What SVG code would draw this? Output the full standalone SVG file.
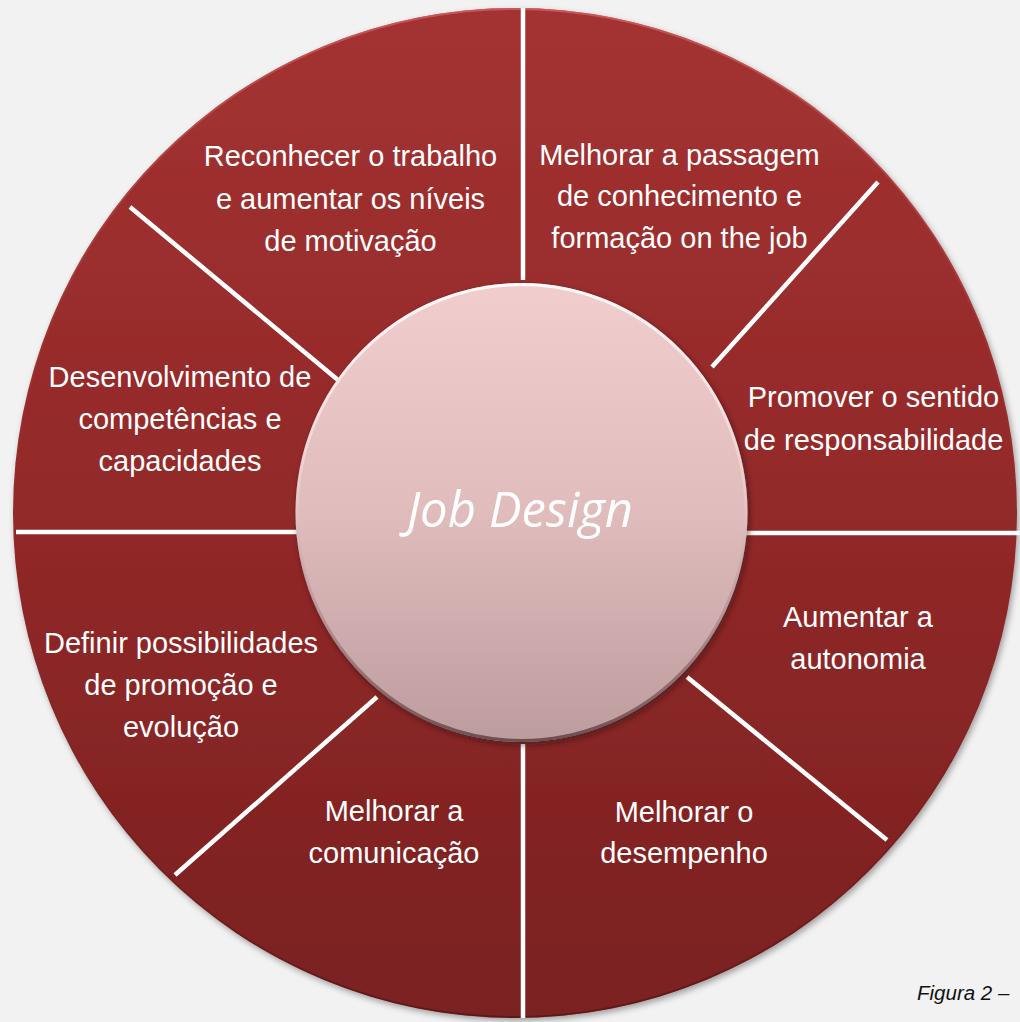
<svg xmlns="http://www.w3.org/2000/svg" width="1020" height="1022" viewBox="0 0 1020 1022">
  <defs>
    <linearGradient id="ringGrad" x1="0" y1="0" x2="0" y2="1">
      <stop offset="0" stop-color="#a43232"/>
      <stop offset="0.5" stop-color="#922929"/>
      <stop offset="1" stop-color="#7a2020"/>
    </linearGradient>
    <linearGradient id="hubGrad" x1="0" y1="0" x2="0" y2="1">
      <stop offset="0" stop-color="#f2cdcd"/>
      <stop offset="0.5" stop-color="#e0bcbc"/>
      <stop offset="1" stop-color="#bd9c9e"/>
    </linearGradient>
    <linearGradient id="hubRim" x1="0" y1="0" x2="0" y2="1">
      <stop offset="0" stop-color="#ffffff" stop-opacity="0.9"/>
      <stop offset="0.45" stop-color="#ffffff" stop-opacity="0.2"/>
      <stop offset="0.7" stop-color="#6a4a4c" stop-opacity="0.2"/>
      <stop offset="1" stop-color="#5a3a3c" stop-opacity="0.8"/>
    </linearGradient>
    <linearGradient id="ringRim" x1="0" y1="0" x2="0" y2="1">
      <stop offset="0" stop-color="#d06060" stop-opacity="0.8"/>
      <stop offset="0.5" stop-color="#a03030" stop-opacity="0"/>
      <stop offset="1" stop-color="#4a1010" stop-opacity="0.6"/>
    </linearGradient>
    <filter id="outerShadow" x="-5%" y="-5%" width="110%" height="110%">
      <feDropShadow dx="2" dy="3" stdDeviation="3" flood-color="#000" flood-opacity="0.35"/>
    </filter>
    <filter id="hubShadow" x="-10%" y="-10%" width="120%" height="120%">
      <feDropShadow dx="2" dy="3" stdDeviation="3" flood-color="#2a0808" flood-opacity="0.55"/>
    </filter>
    <style>
      .lbl { font-family: "Liberation Sans", Arial, sans-serif; font-size: 29px; fill: #ffffff; text-anchor: middle; }
      .div { stroke: #ffffff; stroke-width: 4.5; fill: none; }
      .hubtxt { font-family: "Open Sans", "Noto Sans", sans-serif; font-style: italic; font-size: 49px; fill: #ffffff; text-anchor: middle; }
      .cap { font-family: "Liberation Sans", Arial, sans-serif; font-style: italic; font-size: 20.5px; fill: #111111; }
    </style>
  </defs>

  <rect x="0" y="0" width="1020" height="1022" fill="#f2f2f2"/>

  <g id="ring">
    <ellipse cx="515" cy="513" rx="502" ry="505" fill="url(#ringGrad)" filter="url(#outerShadow)"/>
    <ellipse cx="515" cy="513" rx="501" ry="504" fill="none" stroke="url(#ringRim)" stroke-width="2"/>
  </g>

  <g id="connectors">
    <line class="div" x1="523" y1="8" x2="523" y2="280"/>
    <line class="div" x1="523" y1="744" x2="523" y2="1018"/>
    <line class="div" x1="16" y1="532" x2="298" y2="532"/>
    <line class="div" x1="746" y1="533" x2="1020" y2="533"/>
    <line class="div" x1="130" y1="207" x2="338" y2="380"/>
    <line class="div" x1="878" y1="182" x2="712" y2="367"/>
    <line class="div" x1="687" y1="677" x2="887" y2="840"/>
    <line class="div" x1="377" y1="697" x2="175" y2="875"/>
  </g>

  <g id="hub">
    <ellipse cx="521.5" cy="512.5" rx="226" ry="229.5" fill="url(#hubGrad)" filter="url(#hubShadow)"/>
    <ellipse cx="521.5" cy="512.5" rx="224.5" ry="228" fill="none" stroke="url(#hubRim)" stroke-width="3"/>
    <text class="hubtxt" x="520" y="527">Job Design</text>
  </g>

  <g id="seg-reconhecer">
    <text class="lbl" x="350.5" y="166">Reconhecer o trabalho</text>
    <text class="lbl" x="350.5" y="209">e aumentar os níveis</text>
    <text class="lbl" x="350.5" y="251">de motivação</text>
  </g>

  <g id="seg-passagem">
    <text class="lbl" x="679.5" y="165">Melhorar a passagem</text>
    <text class="lbl" x="679.5" y="206">de conhecimento e</text>
    <text class="lbl" x="679.5" y="248">formação on the job</text>
  </g>

  <g id="seg-responsabilidade">
    <text class="lbl" x="873.5" y="407">Promover o sentido</text>
    <text class="lbl" x="873.5" y="450">de responsabilidade</text>
  </g>

  <g id="seg-autonomia">
    <text class="lbl" x="858" y="627">Aumentar a</text>
    <text class="lbl" x="858" y="669">autonomia</text>
  </g>

  <g id="seg-desempenho">
    <text class="lbl" x="684" y="822">Melhorar o</text>
    <text class="lbl" x="684" y="863">desempenho</text>
  </g>

  <g id="seg-comunicacao">
    <text class="lbl" x="394" y="821">Melhorar a</text>
    <text class="lbl" x="394" y="863">comunicação</text>
  </g>

  <g id="seg-promocao">
    <text class="lbl" x="181" y="653">Definir possibilidades</text>
    <text class="lbl" x="181" y="695">de promoção e</text>
    <text class="lbl" x="181" y="737">evolução</text>
  </g>

  <g id="seg-competencias">
    <text class="lbl" x="180" y="387">Desenvolvimento de</text>
    <text class="lbl" x="180" y="429">competências e</text>
    <text class="lbl" x="180" y="471">capacidades</text>
  </g>

  <text class="cap" x="917" y="1000">Figura 2 –</text>
</svg>
